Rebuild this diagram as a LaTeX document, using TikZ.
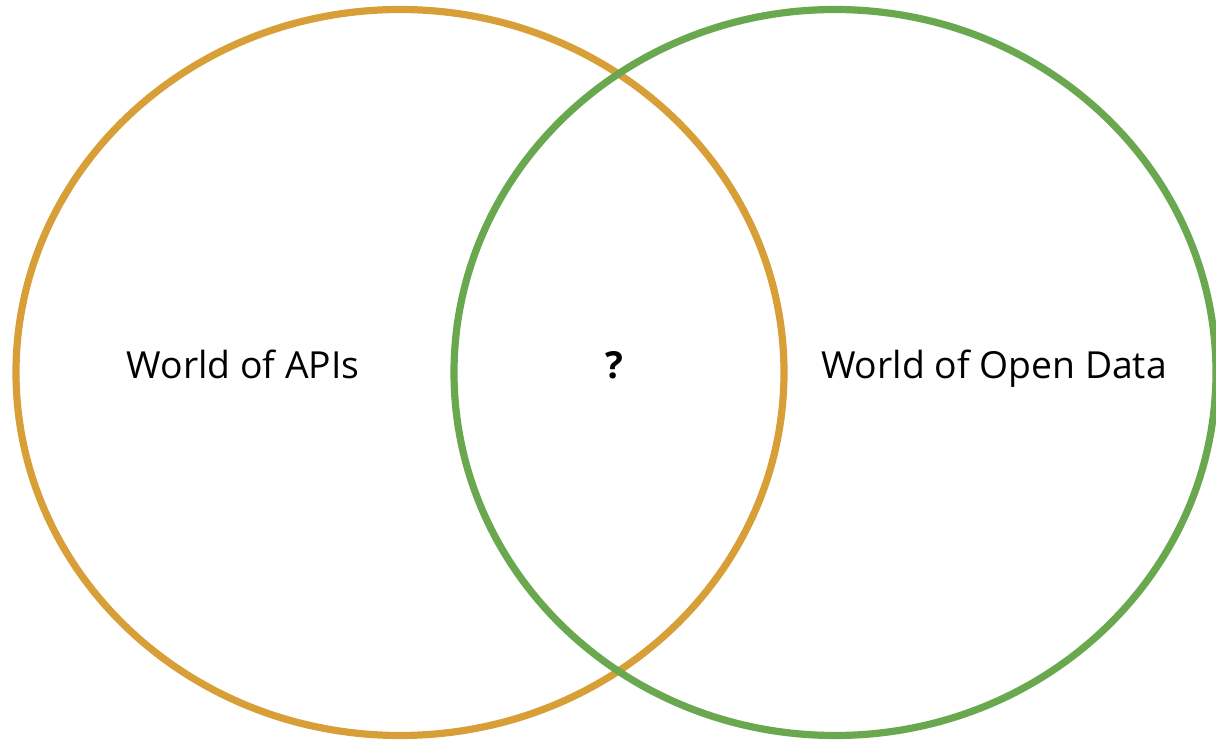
\documentclass[tikz,border=0pt]{standalone}
\usepackage{fontspec}
\setmainfont{Open Sans}
\definecolor{apiorange}{HTML}{D89F38}
\definecolor{datagreen}{HTML}{6AA84F}
\begin{document}
\begin{tikzpicture}[x=1pt,y=1pt,
  ring/.style={line width=7.2pt},
  lbl/.style={font=\fontsize{37.3}{44}\selectfont, inner sep=0pt, anchor=base}]
\useasboundingbox (0,0) rectangle (1216,744);
\clip (0,0) rectangle (1216,744);
\draw[ring, apiorange] (400,371.5) ellipse [x radius=384, y radius=363];
\draw[ring, datagreen] (835,371.5) ellipse [x radius=381, y radius=363];
\node[lbl] (apis) at (243,365.5) {World of APIs};
\node[lbl, font=\fontsize{37.3}{44}\selectfont\bfseries] (q) at (614,365.5) {?};
\node[lbl] (open) at (994,365.5) {World of Open Data};
\end{tikzpicture}
\end{document}
